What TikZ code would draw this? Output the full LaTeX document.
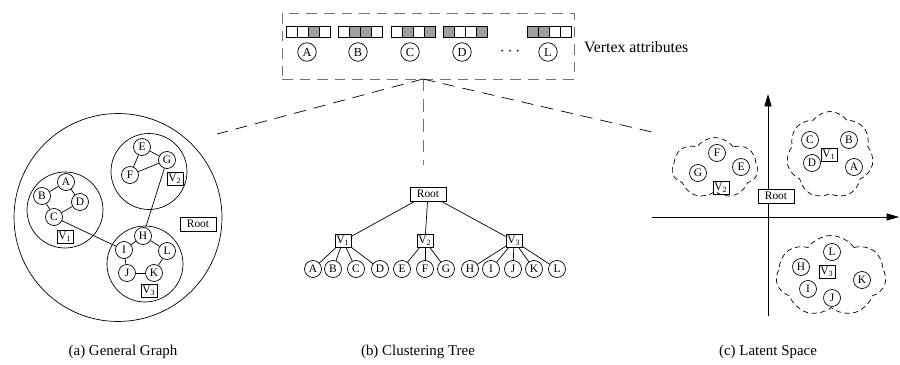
\documentclass[tikz,border=0pt]{standalone}
\usepackage{fontspec}
\setmainfont{Liberation Serif}
\usepackage{xcolor}
\usepackage{tikz}
\usetikzlibrary{shapes,shapes.symbols,arrows.meta}
\definecolor{attrgray}{gray}{0.62}
\definecolor{boxgray}{gray}{0.45}
\tikzstyle{vtx} = [circle, draw, inner sep=0pt, minimum size=0.34cm,
    font=\fontsize{6.5}{7}\selectfont]
\tikzstyle{topvtx} = [vtx, minimum size=0.37cm, font=\fontsize{7}{8}\selectfont]
\tikzstyle{vbox} = [rectangle, draw, inner sep=0.5pt, minimum width=0.32cm,
    minimum height=0.27cm, font=\fontsize{6.5}{7}\selectfont]
\tikzstyle{rootbox} = [rectangle, draw, inner sep=1pt, minimum width=0.72cm,
    minimum height=0.28cm, font=\fontsize{6.5}{7}\selectfont]
\tikzstyle{cell} = [rectangle, draw, inner sep=0pt, minimum size=0.22cm]
\tikzstyle{hull} = [circle, draw, inner sep=0pt]
\tikzstyle{blob} = [cloud, draw, dash pattern=on 3pt off 2pt, cloud puffs=7,
    cloud puff arc=110, cloud ignores aspect]
\tikzstyle{link} = [draw, dash pattern=on 7pt off 4.5pt]
\tikzstyle{axis} = [draw, -{Triangle[length=7pt,width=4pt]}]
\tikzstyle{caption} = [font=\fontsize{8.5}{10}\selectfont]

\begin{document}
\begin{tikzpicture}[x=0.02cm, y=-0.02cm]
    \useasboundingbox (0,0) rectangle (900,365);

    % Vertex attributes
    \node [draw=boxgray, dashed, dash pattern=on 6pt off 4pt, minimum width=5.84cm,
        minimum height=1.32cm] (attrbox) at (428,46) {};
    \foreach \bx/\pa/\pb/\pc/\pd in {286/white/white/attrgray/white,
        338/white/attrgray/attrgray/white, 391/white/attrgray/white/attrgray,
        443/attrgray/white/white/attrgray, 527/attrgray/attrgray/white/white} {
        \node [cell, fill=\pa] (cell\bx-1) at ({\bx+5.5},31.5) {};
        \node [cell, fill=\pb] (cell\bx-2) at ({\bx+16.5},31.5) {};
        \node [cell, fill=\pc] (cell\bx-3) at ({\bx+27.5},31.5) {};
        \node [cell, fill=\pd] (cell\bx-4) at ({\bx+38.5},31.5) {};
    }
    \node [topvtx] (top_A) at (307,52) {A};
    \node [topvtx] (top_B) at (358,52) {B};
    \node [topvtx] (top_C) at (410,52) {C};
    \node [topvtx] (top_D) at (462,52) {D};
    \node [topvtx] (top_L) at (548,52) {L};
    \node (dots) at (510,52) {$\cdots$};
    \node [anchor=west, font=\fontsize{9}{10}\selectfont] (attr_label) at (578,47) {Vertex attributes};

    \coordinate (apex) at (423,79);
    \coordinate (end_a) at (217,134);
    \coordinate (end_b) at (423,165);
    \coordinate (end_c) at (652,132);
    \path [link] (apex) -- (end_a);
    \path [link, draw=boxgray] (apex) -- (end_b);
    \path [link] (apex) -- (end_c);

    % (a) General Graph
    \node [hull, minimum size=4.16cm] (g_root_hull) at (118,217.5) {};
    \node [hull, minimum size=1.52cm] (g_v1_hull) at (65,210) {};
    \node [hull, minimum size=1.52cm] (g_v2_hull) at (149,171.5) {};
    \node [hull, minimum size=1.52cm] (g_v3_hull) at (145,264) {};
    \node [rootbox] (g_root) at (198,224) {Root};
    \node [vbox] (g_v1) at (65,237) {V\textsubscript{1}};
    \node [vbox] (g_v2) at (175,179) {V\textsubscript{2}};
    \node [vbox] (g_v3) at (149,291) {V\textsubscript{3}};
    \node [vtx] (g_A) at (66,182) {A};
    \node [vtx] (g_B) at (42,196) {B};
    \node [vtx] (g_C) at (54,217) {C};
    \node [vtx] (g_D) at (80,202) {D};
    \node [vtx] (g_E) at (142,147) {E};
    \node [vtx] (g_F) at (130,175) {F};
    \node [vtx] (g_G) at (167,160) {G};
    \node [vtx] (g_H) at (143,236) {H};
    \node [vtx] (g_I) at (124,250) {I};
    \node [vtx] (g_J) at (127,273) {J};
    \node [vtx] (g_K) at (154,273) {K};
    \node [vtx] (g_L) at (167,251) {L};
    \draw (g_A) -- (g_B);
    \draw (g_A) -- (g_D);
    \draw (g_B) -- (g_C);
    \draw (g_C) -- (g_D);
    \draw (g_E) -- (g_G);
    \draw (g_E) -- (g_F);
    \draw (g_F) -- (g_G);
    \draw (g_G) -- (g_H);
    \draw (g_C) -- (g_I);
    \draw (g_H) -- (g_I);
    \draw (g_H) -- (g_L);
    \draw (g_I) -- (g_J);
    \draw (g_J) -- (g_K);
    \draw (g_K) -- (g_L);

    % (b) Clustering Tree
    \node [rootbox] (t_root) at (428,194) {Root};
    \node [vbox] (t_v1) at (343,241) {V\textsubscript{1}};
    \node [vbox] (t_v2) at (425,241) {V\textsubscript{2}};
    \node [vbox] (t_v3) at (514,241) {V\textsubscript{3}};
    \path (t_root) edge (t_v1) edge (t_v2) edge (t_v3);
    \foreach \name/\px/\parent in {A/313/t_v1, B/333/t_v1, C/356/t_v1, D/380/t_v1,
        E/402/t_v2, F/425/t_v2, G/446/t_v2,
        H/470/t_v3, I/491/t_v3, J/513/t_v3, K/534/t_v3, L/557/t_v3} {
        \node [vtx] (t_\name) at (\px,269) {\name};
        \draw (\parent) -- (t_\name);
    }

    % (c) Latent Space
    \coordinate (y_bot) at (768,316);
    \coordinate (y_top) at (768,94);
    \coordinate (x_left) at (652,217);
    \coordinate (x_right) at (899,217);
    \path [axis] (y_bot) -- (y_top);
    \path [axis] (x_left) -- (x_right);
    \node [rootbox, fill=white] (l_root) at (776,196) {Root};
    \node [blob, minimum width=1.72cm, minimum height=1.22cm] (l_v2_blob) at (715,168) {};
    \node [blob, minimum width=1.74cm, minimum height=1.74cm] (l_v1_blob) at (830,155) {};
    \node [blob, minimum width=2.2cm, minimum height=1.62cm] (l_v3_blob) at (831,276) {};
    \node [vtx] (l_F) at (717,153) {F};
    \node [vtx] (l_E) at (741,167) {E};
    \node [vtx] (l_G) at (698,173) {G};
    \node [vbox] (l_v2) at (721,188) {V\textsubscript{2}};
    \node [vtx] (l_C) at (810,140) {C};
    \node [vtx] (l_B) at (849,140) {B};
    \node [vbox] (l_v1) at (829,155) {V\textsubscript{1}};
    \node [vtx] (l_D) at (812,163) {D};
    \node [vtx] (l_A) at (854,167) {A};
    \node [vtx] (l_L) at (832,252) {L};
    \node [vtx] (l_H) at (801,267) {H};
    \node [vbox] (l_v3) at (827,272) {V\textsubscript{3}};
    \node [vtx] (l_K) at (862,280) {K};
    \node [vtx] (l_I) at (808,289) {I};
    \node [vtx] (l_J) at (832,298) {J};

    % Captions
    \node [caption] (cap_a) at (123,352) {(a) General Graph};
    \node [caption] (cap_b) at (418,352) {(b) Clustering Tree};
    \node [caption] (cap_c) at (768,352) {(c) Latent Space};

\end{tikzpicture}
\end{document}
